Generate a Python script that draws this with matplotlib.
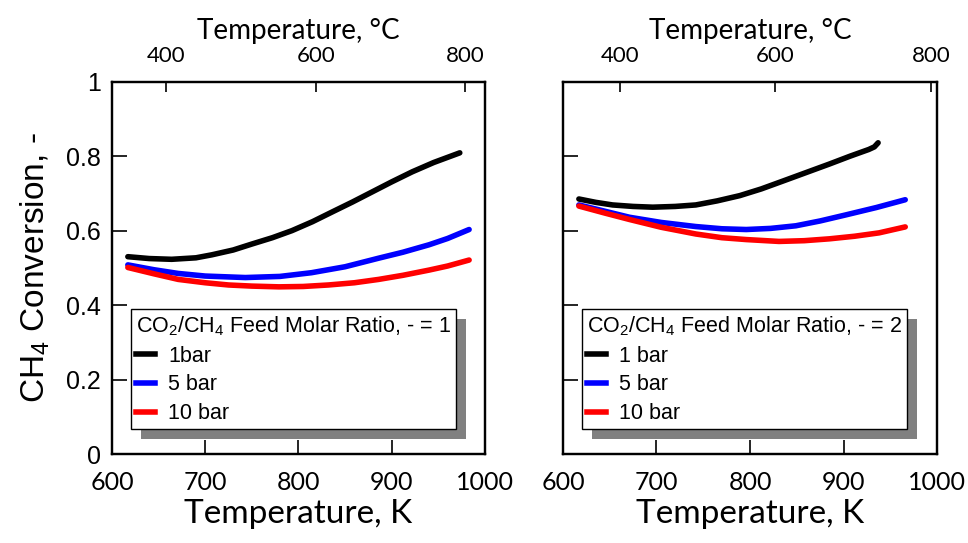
import numpy as np
import matplotlib
matplotlib.use('Agg')
import matplotlib.pyplot as plt
from matplotlib.lines import Line2D
from matplotlib.patches import Rectangle

plt.rcParams.update({
    'font.family': ['Liberation Sans', 'DejaVu Sans'],
    'mathtext.default': 'regular',
    'axes.linewidth': 1.6,
})

CALIBRI_LIKE = ['Lato', 'DejaVu Sans']

# ratio CO2/CH4 = 1
T1_black = [617, 640, 664, 690, 707, 730, 750, 772, 793, 815, 836, 858, 879, 900, 922, 945, 973]
X1_black = [0.530, 0.525, 0.523, 0.527, 0.535, 0.548, 0.564, 0.581, 0.600, 0.624, 0.650, 0.677,
            0.704, 0.731, 0.758, 0.783, 0.809]
T1_blue = [617, 645, 671, 700, 743, 780, 814, 850, 886, 912, 940, 960, 983]
X1_blue = [0.508, 0.495, 0.485, 0.478, 0.474, 0.477, 0.487, 0.503, 0.526, 0.542, 0.562, 0.579, 0.603]
T1_red = [617, 645, 671, 700, 725, 750, 779, 805, 832, 860, 886, 912, 940, 960, 983]
X1_red = [0.501, 0.484, 0.469, 0.460, 0.454, 0.451, 0.449, 0.450, 0.454, 0.460, 0.469, 0.480,
          0.494, 0.505, 0.521]

# ratio CO2/CH4 = 2
T2_black = [617, 635, 653, 675, 696, 720, 742, 765, 789, 812, 835, 860, 885, 907, 927, 933, 937]
X2_black = [0.685, 0.676, 0.669, 0.665, 0.663, 0.665, 0.669, 0.680, 0.694, 0.712, 0.733, 0.756,
            0.779, 0.800, 0.818, 0.825, 0.836]
T2_blue = [617, 645, 671, 705, 742, 770, 796, 822, 849, 875, 902, 935, 966]
X2_blue = [0.669, 0.652, 0.636, 0.622, 0.611, 0.605, 0.603, 0.606, 0.613, 0.626, 0.642, 0.662, 0.683]
T2_red = [617, 645, 671, 705, 742, 770, 796, 831, 858, 885, 912, 938, 966]
X2_red = [0.666, 0.647, 0.630, 0.609, 0.591, 0.581, 0.576, 0.571, 0.573, 0.578, 0.585, 0.594, 0.610]

labels_1 = ['1bar', '5 bar', '10 bar']
labels_2 = ['1 bar', '5 bar', '10 bar']
colors = ['black', '#0000ff', '#ff0000']

x_ticks_K = [600, 700, 800, 900, 1000]
x_ticks_C = [400, 600, 800]
y_ticks = [0, 0.2, 0.4, 0.6, 0.8, 1.0]
y_ticklabels = ['0', '0.2', '0.4', '0.6', '0.8', '1']

fig = plt.figure(figsize=(9.68, 5.43), dpi=100)
ax1 = fig.add_axes([0.1157, 0.1639, 0.3853, 0.6856])
ax2 = fig.add_axes([0.5816, 0.1639, 0.3864, 0.6856])

panels = [
    (ax1, [(T1_black, X1_black), (T1_blue, X1_blue), (T1_red, X1_red)], labels_1, 1, (327, 827)),
    (ax2, [(T2_black, X2_black), (T2_blue, X2_blue), (T2_red, X2_red)], labels_2, 2, (327, 808)),
]

legends = []
for ax, series, labels, ratio, clim in panels:
    for (t, x), c in zip(series, colors):
        ax.plot(t, x, color=c, lw=4.0, solid_capstyle='round', solid_joinstyle='round')
    ax.set_xlim(600, 1000)
    ax.set_ylim(0, 1)
    ax.set_xticks(x_ticks_K)
    ax.set_xticklabels([str(v) for v in x_ticks_K], family=CALIBRI_LIKE, fontsize=18)
    ax.set_yticks(y_ticks)
    ax.tick_params(axis='x', direction='in', length=10, width=1.2, pad=12, top=False)
    ax.tick_params(axis='y', direction='in', length=11, width=1.2, pad=8, right=False)
    ax.set_xlabel('Temperature, K', family=CALIBRI_LIKE, fontsize=24, labelpad=4)

    top = ax.twiny()
    top.set_xlim(*clim)
    top.set_xticks(x_ticks_C)
    top.set_xticklabels([str(v) for v in x_ticks_C], family=CALIBRI_LIKE, fontsize=16)
    top.tick_params(axis='x', direction='in', length=7, width=1.2, pad=11)
    top.set_xlabel('Temperature, °C', family=CALIBRI_LIKE, fontsize=20, labelpad=5)

    handles = [Line2D([], [], color=c, lw=4.0) for c in colors]
    leg = ax.legend(handles, labels,
                    title=rf'CO$_2$/CH$_4$ Feed Molar Ratio, - = {ratio}',
                    title_fontsize=15.5, fontsize=15.5, alignment='left',
                    loc='upper left', bbox_to_anchor=(0.05, 0.39),
                    frameon=True, fancybox=False, framealpha=1, edgecolor='black',
                    handlelength=0.9, handletextpad=0.6, labelspacing=0.36,
                    borderpad=0.25, borderaxespad=0)
    leg.get_frame().set_linewidth(1.0)
    leg.set_zorder(6)
    legends.append((ax, leg))

ax1.set_yticklabels(y_ticklabels, fontsize=18)
ax2.set_yticklabels([])
ax1.set_ylabel(r'CH$_4$ Conversion, -', fontsize=24, labelpad=10)

# drop shadow behind each legend box
fig.canvas.draw()
for ax, leg in legends:
    bb = leg.get_window_extent()
    inv = ax.transAxes.inverted()
    (x0, y0), (x1, y1) = inv.transform([[bb.x0 + 10, bb.y0 - 10], [bb.x1 + 10, bb.y1 - 10]])
    ax.add_patch(Rectangle((x0, y0), x1 - x0, y1 - y0, transform=ax.transAxes,
                           facecolor='#808080', edgecolor='none', zorder=5, clip_on=False))

fig.savefig('out.png', dpi=100)
